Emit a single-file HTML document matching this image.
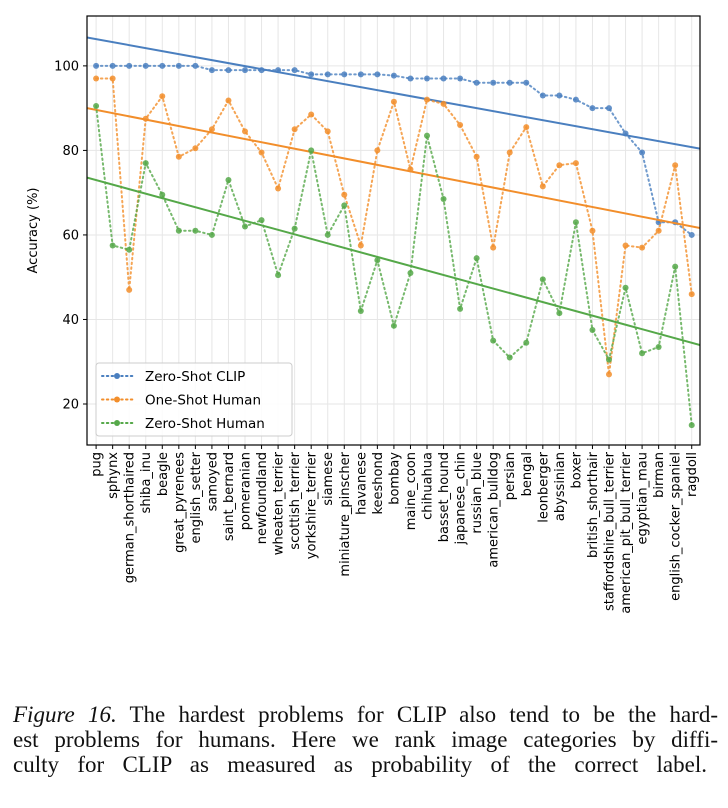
<!DOCTYPE html>
<html><head><meta charset="utf-8"><style>
body{margin:0;background:#fff;width:728px;height:808px;overflow:hidden}
svg text{font-family:"DejaVu Sans","Liberation Sans",sans-serif}
.cap{position:absolute;left:13px;top:702px;width:705px;font-family:"Liberation Serif",serif;font-size:23px;line-height:25px;color:#111}
.cap div{text-align:justify;text-align-last:justify;white-space:nowrap}
.cap div.last{width:694px}
</style></head><body>
<svg id="chart" width="728" height="700" style="position:absolute;left:0;top:0"></svg>
<div class="cap"><div><i>Figure 16.</i> The hardest problems for CLIP also tend to be the hard-</div><div>est problems for humans. Here we rank image categories by diffi-</div><div class="last">culty for CLIP as measured as probability of the correct label.</div></div>
<script>
const categories=["pug","sphynx","german_shorthaired","shiba_inu","beagle","great_pyrenees","english_setter","samoyed","saint_bernard","pomeranian","newfoundland","wheaten_terrier","scottish_terrier","yorkshire_terrier","siamese","miniature_pinscher","havanese","keeshond","bombay","maine_coon","chihuahua","basset_hound","japanese_chin","russian_blue","american_bulldog","persian","bengal","leonberger","abyssinian","boxer","british_shorthair","staffordshire_bull_terrier","american_pit_bull_terrier","egyptian_mau","birman","english_cocker_spaniel","ragdoll"];
const clipVals=[100,100,100,100,100,100,100,99,99,99,99,99,99,98,98,98,98,98,97.7,97,97,97,97,96,96,96,96,93,93,92,90,90,84,79.5,63,63,60];
const oneShotVals=[97,97,47,87.5,92.8,78.5,80.5,85,91.8,84.5,79.5,71,85,88.5,84.5,69.5,57.5,80,91.5,75.5,92,91,86,78.5,57,79.5,85.5,71.5,76.5,77,61,27,57.5,57,61,76.5,46];
const zeroShotVals=[90.5,57.5,56.5,77,69.5,61,61,60,73,62,63.5,50.5,61.5,80,60,67,42,54,38.5,51,83.5,68.5,42.5,54.5,35,31,34.5,49.5,41.5,63,37.5,30.5,47.5,32,33.5,52.5,15];
const yTicks=[20,40,60,80,100];
const seriesNames=["Zero-Shot CLIP","One-Shot Human","Zero-Shot Human"];
const colors=["#4a7fbf","#f28e2b","#55a849"];
const NS="http://www.w3.org/2000/svg";
const svg=document.getElementById('chart');
const L=87,R=700,T=16,B=445;
const xmin=-0.55,xmax=36.5,ymin=10.3,ymax=111.8;
const X=i=>L+(i-xmin)/(xmax-xmin)*(R-L);
const Y=v=>B-(v-ymin)/(ymax-ymin)*(B-T);
function el(tag,a,p){const e=document.createElementNS(NS,tag);for(const k in a)e.setAttribute(k,a[k]);(p||svg).appendChild(e);return e;}
categories.forEach((c,i)=>{
  const g=el('line',{x1:X(i),x2:X(i),y1:T,y2:B,stroke:'#e6e6e6','stroke-width':1});
  
  
  const t=el('line',{x1:X(i),x2:X(i),y1:B,y2:B+4,stroke:'#000','stroke-width':1});
  
  
  const tx=el('text',{x:0,y:0,'font-size':13,'text-anchor':'end',transform:`translate(${X(i)+4.5},${B+7}) rotate(-90)`});
  tx.textContent=c;
  
  
});
yTicks.forEach(v=>{
  const g=el('line',{x1:L,x2:R,y1:Y(v),y2:Y(v),stroke:'#e6e6e6','stroke-width':1});
  
  
  const t=el('line',{x1:L-4,x2:L,y1:Y(v),y2:Y(v),stroke:'#000'});
  
  
  const tx=el('text',{x:L-8,y:Y(v)+4.5,'font-size':13,'text-anchor':'end'});
  tx.textContent=v;
  
  
});
const yl=el('text',{x:0,y:0,'font-size':13,'text-anchor':'middle',transform:`translate(37,${(T+B)/2}) rotate(-90)`});
yl.textContent='Accuracy (%)';


const clip=el('clipPath',{id:'pc'});el('rect',{x:L,y:T,width:R-L,height:B-T},clip);
[clipVals,oneShotVals,zeroShotVals].forEach((vals,s)=>{
  const n=vals.length;let sx=0,sy=0,sxx=0,sxy=0;
  vals.forEach((v,i)=>{sx+=i;sy+=v;sxx+=i*i;sxy+=i*v;});
  const m=(n*sxy-sx*sy)/(n*sxx-sx*sx),b=(sy-m*sx)/n;
  const fl=el('line',{x1:X(xmin),y1:Y(b+m*xmin),x2:X(xmax),y2:Y(b+m*xmax),stroke:colors[s],'stroke-width':2,'clip-path':'url(#pc)'});
  
  
  const pl=el('polyline',{points:vals.map((v,i)=>X(i)+','+Y(v)).join(' '),fill:'none',stroke:colors[s],'stroke-width':2,'stroke-dasharray':'1.5 3.3','stroke-linecap':'round',opacity:0.8});
  
  
  vals.forEach((v,i)=>{
    const c=el('circle',{cx:X(i),cy:Y(v),r:3,fill:colors[s],opacity:0.85});
    
    
  });
});
el('rect',{x:L,y:T,width:R-L,height:B-T,fill:'none',stroke:'#000','stroke-width':1.2});
const lg=el('g',{});


el('rect',{x:96,y:363,width:196,height:73,rx:3,fill:'#fff','fill-opacity':0.85,stroke:'#ccc'},lg);
seriesNames.forEach((nm,s)=>{
  const y=376+s*23.5;
  el('line',{x1:102,x2:133,y1:y,y2:y,stroke:colors[s],'stroke-width':2,'stroke-dasharray':'1.5 3.3','stroke-linecap':'round'},lg);
  el('circle',{cx:117,cy:y,r:3,fill:colors[s]},lg);
  const t=el('text',{x:145,y:y+5,'font-size':13.5},lg);
  t.textContent=nm;
  
  
});
</script>
</body></html>
